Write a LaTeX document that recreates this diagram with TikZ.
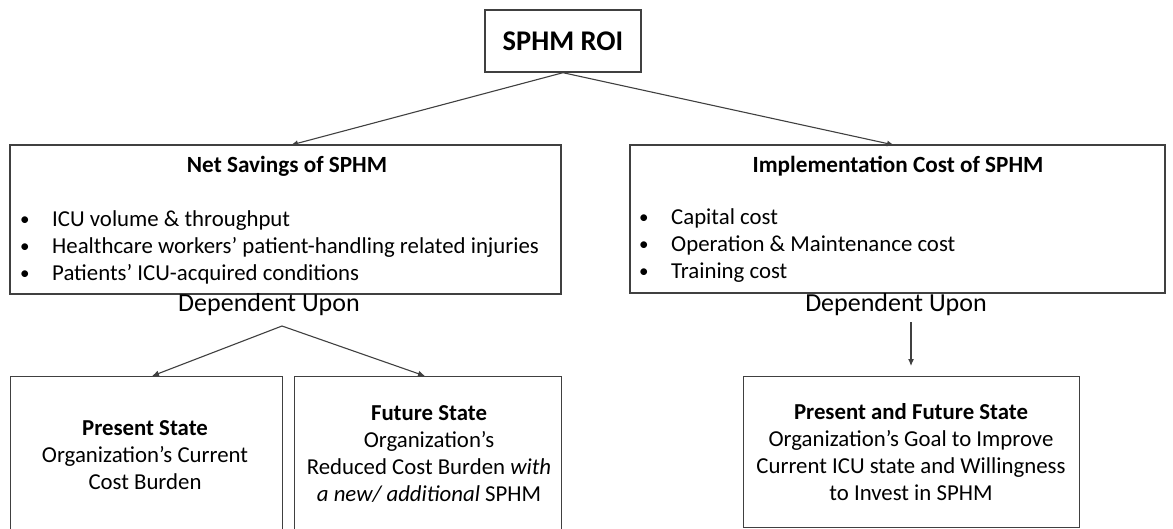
\documentclass[tikz,border=0pt]{standalone}
\usepackage{fontspec}
\setmainfont{Carlito}
\usetikzlibrary{arrows.meta}
\definecolor{linegray}{HTML}{404040}
\newcommand{\blt}{\makebox[32pt][l]{\raisebox{1pt}{\fontsize{19}{27}\selectfont•}}}
\tikzset{
  box/.style={draw=linegray, line width=1.4pt, rectangle, inner sep=0pt},
  conn/.style={draw=linegray, line width=1.1pt, -{Latex[length=7pt,width=6pt]}},
  body/.style={font=\fontsize{22.8}{27}\selectfont, text=black, inner sep=0pt, align=center},
  head/.style={font=\fontsize{23.2}{27}\selectfont\bfseries, text=black, inner sep=0pt},
  dep/.style={font=\fontsize{26}{30}\selectfont, text=black, inner sep=0pt},
}
\begin{document}
\begin{tikzpicture}[x=1pt,y=-1pt]
\useasboundingbox (0,0) rectangle (1173,528);
\clip (0,0) rectangle (1173,528);
% boxes
\node[box, minimum width=156pt, minimum height=62pt] (roi) at (563,41) {};
\node[font=\fontsize{28.5}{32}\selectfont\bfseries, inner sep=0pt] (roit) at (563,41) {SPHM ROI};
\node[box, minimum width=551pt, minimum height=149pt] (ns) at (285.5,219.5) {};
\node[box, minimum width=535pt, minimum height=148pt] (ic) at (897.5,219) {};
\node[box, minimum width=272pt, minimum height=160pt, anchor=north west] (ps) at (10,376) {};
\node[box, minimum width=267pt, minimum height=160pt, anchor=north west] (fs) at (294,376) {};
\node[box, minimum width=336pt, minimum height=151pt, anchor=north west] (pf) at (743,376) {};
% headings and lists
\node[head] (nsh) at (287,166) {Net Savings of SPHM};
\node[head] (ich) at (898,166) {Implementation Cost of SPHM};
\node[body, align=left, anchor=west] (nsl) at (20,247)
  {\blt ICU volume \& throughput\\
   \blt Healthcare workers’ patient-handling related injuries\\
   \blt Patients’ ICU-acquired conditions};
\node[body, align=left, anchor=west] (icl) at (639,246)
  {\blt Capital cost\\
   \blt Operation \& Maintenance cost\\
   \blt Training cost};
% dependent upon
\node[dep] (depl) at (269,305) {Dependent Upon};
\node[dep] (depr) at (896,305) {Dependent Upon};
% bottom texts
\node[body] (pst) at (145,455) {\textbf{Present State}\\Organization’s Current\\Cost Burden};
\node[body] (fst) at (429,454) {\textbf{Future State}\\Organization’s\\Reduced Cost Burden \textit{with}\\\textit{a new/ additional} SPHM};
\node[body] (pft) at (911,452) {\textbf{Present and Future State}\\Organization’s Goal to Improve\\Current ICU state and Willingness\\to Invest in SPHM};
% connector coordinates
\coordinate (nsin) at (291,145);
\coordinate (icin) at (894,145);
\coordinate (apex) at (282,326);
\coordinate (psin) at (152,376);
\coordinate (fsin) at (425,376);
\coordinate (dr1) at (911,322);
\coordinate (dr2) at (911,366);
% connectors
\draw[conn] (roi.south) -- (nsin);
\draw[conn] (roi.south) -- (icin);
\draw[conn] (apex) -- (psin);
\draw[conn] (apex) -- (fsin);
\draw[conn] (dr1) -- (dr2);
\end{tikzpicture}
\end{document}
